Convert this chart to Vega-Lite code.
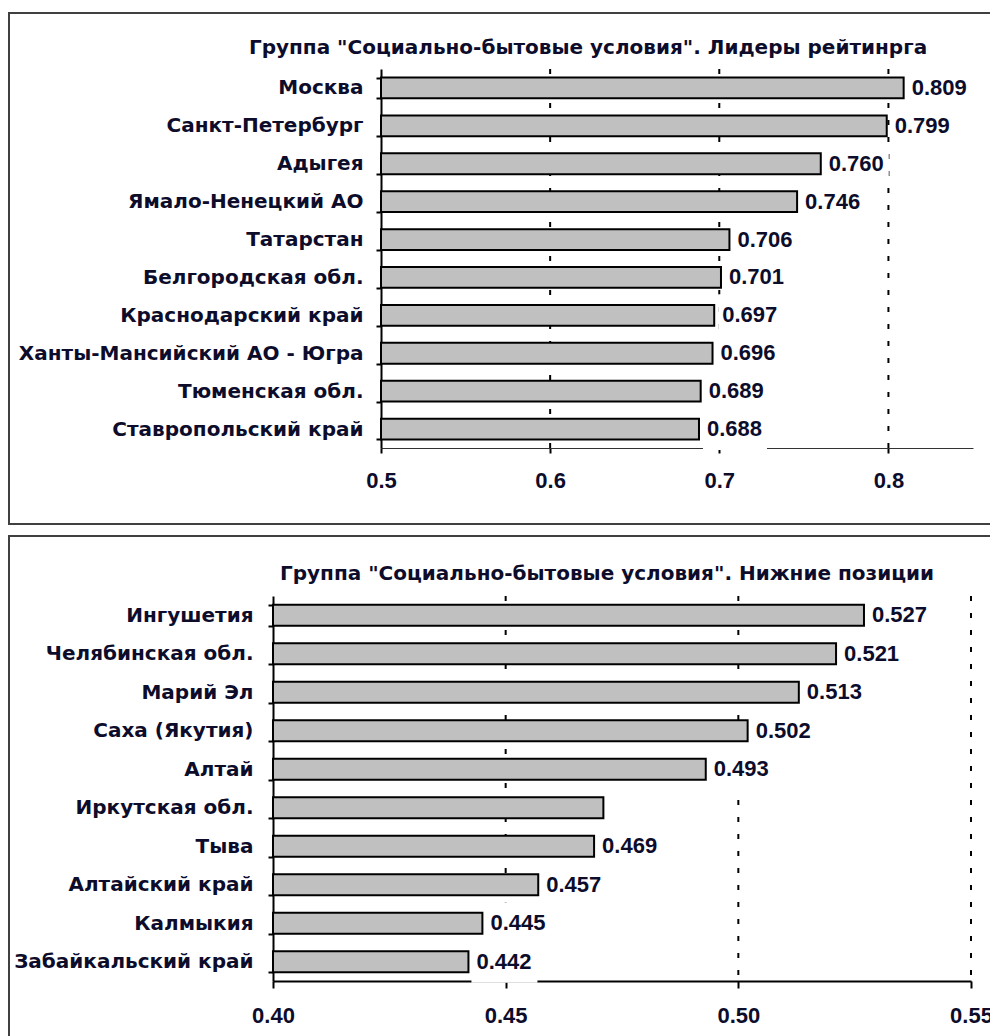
{
  "$schema": "https://vega.github.io/schema/vega-lite/v6.json",
  "padding": {"left": 8, "top": 2, "right": 0, "bottom": 0},
  "background": "white",
  "spacing": 0,
  "config": {
    "view": {"stroke": "#404040", "strokeWidth": 2},
    "font": "DejaVu Sans",
    "title": {"font": "DejaVu Sans", "fontSize": 20, "fontWeight": "bold", "color": "#0d0d2b"}
  },
  "vconcat": [
    {
      "width": 990,
      "height": 511,
      "title": {"text": "Группа \"Социально-бытовые условия\". Лидеры рейтинрга", "anchor": "middle", "frame": "group", "offset": -48, "dx": 84, "dy": 7},
      "resolve": {"scale": {"y": "independent"}},
      "layer": [
        {
          "data": {"values": [{"tick": 0.6}, {"tick": 0.7}, {"tick": 0.8}]},
          "mark": {"type": "rule", "color": "black", "strokeWidth": 2, "strokeDash": [5, 12]},
          "encoding": {
            "x": {"field": "tick", "type": "quantitative"},
            "y": {"datum": 0, "type": "quantitative", "scale": {"domain": [0, 1], "range": [56, 435], "zero": false, "nice": false}, "axis": null},
            "y2": {"datum": 1}
          }
        },
        {
          "data": {"name": "top"},
          "mark": {"type": "bar", "fill": "#c0c0c0", "stroke": "black", "strokeWidth": 2},
          "encoding": {
            "y": {
              "field": "region", "type": "nominal", "sort": null,
              "scale": {"range": [56, 435], "paddingInner": 0.45, "paddingOuter": 0.225},
              "axis": {"orient": "left", "offset": -372, "tickBand": "extent", "domainColor": "black", "domainWidth": 2, "tickColor": "black", "tickWidth": 2, "tickSize": 5, "labelPadding": 13, "labelFont": "DejaVu Sans", "labelFontSize": 20, "labelFontWeight": "bold", "labelColor": "#0d0d2b", "labelLimit": 0, "title": null}
            },
            "x": {
              "field": "value", "type": "quantitative",
              "scale": {"domain": [0.5, 0.85], "range": [372, 964], "zero": false, "nice": false},
              "axis": {"orient": "bottom", "offset": -76, "values": [0.5, 0.6, 0.7, 0.8], "format": ".1f", "grid": false, "domainColor": "#333333", "domainWidth": 1, "tickColor": "black", "tickWidth": 2, "tickSize": 5, "labelPadding": 17, "labelFont": "Liberation Sans", "labelFontSize": 22, "labelFontWeight": "bold", "labelColor": "#0d0d2b", "labelFlush": false, "title": null}
            },
            "x2": {"datum": 0.5}
          }
        },
        {
          "data": {"name": "top"},
          "mark": {"type": "tick", "color": "white", "opacity": 1, "thickness": 64, "size": 42, "xOffset": 36},
          "encoding": {
            "y": {"field": "region", "type": "nominal", "sort": null, "scale": {"range": [56, 435], "paddingInner": 0.45, "paddingOuter": 0.225}, "axis": null},
            "x": {"field": "value", "type": "quantitative"}
          }
        },
        {
          "data": {"name": "top"},
          "mark": {"type": "text", "align": "left", "baseline": "middle", "dx": 8, "font": "Liberation Sans", "fontSize": 22, "fontWeight": "bold", "color": "#0d0d2b"},
          "encoding": {
            "y": {"field": "region", "type": "nominal", "sort": null, "scale": {"range": [56, 435], "paddingInner": 0.45, "paddingOuter": 0.225}, "axis": null},
            "x": {"field": "value", "type": "quantitative"},
            "text": {"field": "value", "type": "quantitative", "format": ".3f"}
          }
        }
      ]
    },
    {
      "width": 990,
      "height": 510,
      "title": {"text": "Группа \"Социально-бытовые условия\". Нижние позиции", "anchor": "middle", "frame": "group", "offset": -48, "dx": 103, "dy": 10},
      "resolve": {"scale": {"y": "independent"}},
      "layer": [
        {
          "data": {"values": [{"tick": 0.45}, {"tick": 0.5}, {"tick": 0.55}]},
          "mark": {"type": "rule", "color": "black", "strokeWidth": 2, "strokeDash": [5, 12]},
          "encoding": {
            "x": {"field": "tick", "type": "quantitative"},
            "y": {"datum": 0, "type": "quantitative", "scale": {"domain": [0, 1], "range": [60, 445], "zero": false, "nice": false}, "axis": null},
            "y2": {"datum": 1}
          }
        },
        {
          "data": {"name": "bottom"},
          "mark": {"type": "bar", "fill": "#c0c0c0", "stroke": "black", "strokeWidth": 2},
          "encoding": {
            "y": {
              "field": "region", "type": "nominal", "sort": null,
              "scale": {"range": [60, 445], "paddingInner": 0.45, "paddingOuter": 0.225},
              "axis": {"orient": "left", "offset": -264, "tickBand": "extent", "domainColor": "black", "domainWidth": 2, "tickColor": "black", "tickWidth": 2, "tickSize": 5, "labelPadding": 15, "labelFont": "DejaVu Sans", "labelFontSize": 20, "labelFontWeight": "bold", "labelColor": "#0d0d2b", "labelLimit": 0, "title": null}
            },
            "x": {
              "field": "value", "type": "quantitative",
              "scale": {"domain": [0.4, 0.55], "range": [264, 962], "zero": false, "nice": false},
              "axis": {"orient": "bottom", "offset": -65, "values": [0.4, 0.45, 0.5, 0.55], "format": ".2f", "grid": false, "domainColor": "black", "domainWidth": 2, "tickColor": "black", "tickWidth": 2, "tickSize": 7, "labelPadding": 17, "labelFont": "Liberation Sans", "labelFontSize": 22, "labelFontWeight": "bold", "labelColor": "#0d0d2b", "labelFlush": false, "title": null}
            },
            "x2": {"datum": 0.4}
          }
        },
        {
          "data": {"name": "bottom"},
          "transform": [{"filter": "datum.labeled"}],
          "mark": {"type": "tick", "color": "white", "opacity": 1, "thickness": 66, "size": 42, "xOffset": 36},
          "encoding": {
            "y": {"field": "region", "type": "nominal", "sort": null, "scale": {"domain": ["Ингушетия\u00a0", "Челябинская обл.", "Марий Эл", "Саха (Якутия)", "Алтай", "Иркутская обл.", "Тыва", "Алтайский край", "Калмыкия", "Забайкальский край"], "range": [60, 445], "paddingInner": 0.45, "paddingOuter": 0.225}, "axis": null},
            "x": {"field": "value", "type": "quantitative"}
          }
        },
        {
          "data": {"name": "bottom"},
          "transform": [{"filter": "datum.labeled"}],
          "mark": {"type": "text", "align": "left", "baseline": "middle", "dx": 8, "font": "Liberation Sans", "fontSize": 22, "fontWeight": "bold", "color": "#0d0d2b"},
          "encoding": {
            "y": {"field": "region", "type": "nominal", "sort": null, "scale": {"domain": ["Ингушетия\u00a0", "Челябинская обл.", "Марий Эл", "Саха (Якутия)", "Алтай", "Иркутская обл.", "Тыва", "Алтайский край", "Калмыкия", "Забайкальский край"], "range": [60, 445], "paddingInner": 0.45, "paddingOuter": 0.225}, "axis": null},
            "x": {"field": "value", "type": "quantitative"},
            "text": {"field": "value", "type": "quantitative", "format": ".3f"}
          }
        }
      ]
    }
  ],
  "datasets": {
    "top": [
      {"region": "Москва", "value": 0.809},
      {"region": "Санкт-Петербург", "value": 0.799},
      {"region": "Адыгея", "value": 0.760},
      {"region": "Ямало-Ненецкий АО", "value": 0.746},
      {"region": "Татарстан", "value": 0.706},
      {"region": "Белгородская обл.", "value": 0.701},
      {"region": "Краснодарский край", "value": 0.697},
      {"region": "Ханты-Мансийский АО - Югра", "value": 0.696},
      {"region": "Тюменская обл.", "value": 0.689},
      {"region": "Ставропольский край", "value": 0.688}
    ],
    "bottom": [
      {"region": "Ингушетия\u00a0", "value": 0.527, "labeled": true},
      {"region": "Челябинская обл.", "value": 0.521, "labeled": true},
      {"region": "Марий Эл", "value": 0.513, "labeled": true},
      {"region": "Саха (Якутия)", "value": 0.502, "labeled": true},
      {"region": "Алтай", "value": 0.493, "labeled": true},
      {"region": "Иркутская обл.", "value": 0.471, "labeled": false},
      {"region": "Тыва", "value": 0.469, "labeled": true},
      {"region": "Алтайский край", "value": 0.457, "labeled": true},
      {"region": "Калмыкия", "value": 0.445, "labeled": true},
      {"region": "Забайкальский край", "value": 0.442, "labeled": true}
    ]
  }
}
